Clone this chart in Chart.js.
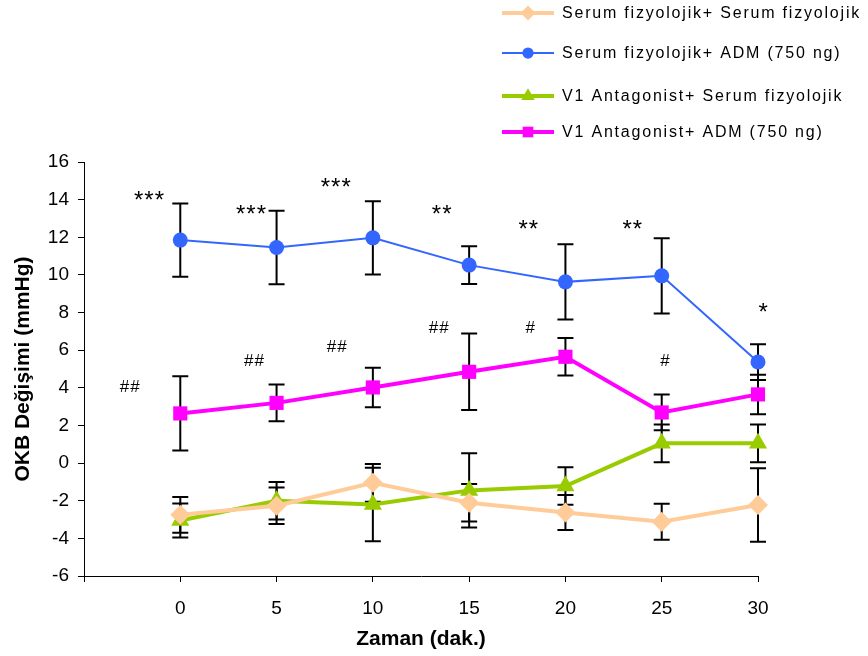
<!DOCTYPE html>
<html>
<head>
<meta charset="utf-8">
<script src="https://cdn.jsdelivr.net/npm/chart.js@4"></script>
<style>
  body { margin: 0; background: #fff; }
  #wrap { width: 868px; height: 656px; }
</style>
</head>
<body>
<div id="wrap"><canvas id="chart" width="868" height="656"></canvas></div>
<script>
// Time points (dak.)
const times = [0, 5, 10, 15, 20, 25, 30];

// Series means and error values (mmHg)
const sfSf = [-2.75, -2.27, -1.05, -2.11, -2.62, -3.12, -2.23];
const sfSfErr = [0.95, 0.97, 1.0, 1.0, 0.93, 0.96, 1.95];

const sfAdm = [11.85, 11.46, 11.97, 10.52, 9.63, 9.95, 5.37];
const sfAdmErr = [1.95, 1.95, 1.95, 1.0, 2.0, 2.0, 0.95];

const v1Sf = [-3.05, -2.0, -2.2, -1.45, -1.22, 1.05, 1.05];
const v1SfErr = [0.9, 1.0, 1.95, 1.97, 1.0, 1.0, 1.0];

const v1Adm = [2.64, 3.2, 4.02, 4.85, 5.65, 2.69, 3.65];
const v1AdmErr = [1.97, 0.97, 1.05, 2.03, 1.0, 0.95, 1.05];

const seriesNames = [
  'Serum fizyolojik+ Serum fizyolojik',
  'Serum fizyolojik+ ADM (750 ng)',
  'V1 Antagonist+ Serum fizyolojik',
  'V1 Antagonist+ ADM (750 ng)'
];

// Significance marks (text, x in dak., y in mmHg)
const markText = ['***', '***', '***', '**', '**', '**', '*', '##', '##', '##', '##', '#', '#'];
const markX = [-1.6, 3.7, 8.1, 13.6, 18.1, 23.5, 30.3, -2.6, 3.85, 8.15, 13.45, 18.2, 25.2];
const markY = [14.2, 13.5, 14.9, 13.5, 12.7, 12.7, 8.3, 4.05, 5.4, 6.15, 7.15, 7.15, 5.4];

const toPoints = (vals) => vals.map((v, i) => ({ x: times[i], y: v }));

const FONT = "Arial, 'Liberation Sans', sans-serif";
const legendRows = [13, 53, 96, 132]; // row centres of the legend, px

// Draw error bars behind the lines/markers
const errorBars = {
  id: 'errorBars',
  beforeDatasetsDraw(chart) {
    const { ctx, scales: { y } } = chart;
    ctx.save();
    ctx.strokeStyle = '#000';
    ctx.lineWidth = 2;
    chart.data.datasets.forEach((ds, di) => {
      const meta = chart.getDatasetMeta(di);
      meta.data.forEach((pt, i) => {
        const v = ds.data[i].y;
        const e = ds.errors[i];
        const top = y.getPixelForValue(v + e);
        const bot = y.getPixelForValue(v - e);
        const cap = 8;
        ctx.beginPath();
        ctx.moveTo(pt.x, top); ctx.lineTo(pt.x, bot);
        ctx.moveTo(pt.x - cap, top); ctx.lineTo(pt.x + cap, top);
        ctx.moveTo(pt.x - cap, bot); ctx.lineTo(pt.x + cap, bot);
        ctx.stroke();
      });
    });
    ctx.restore();
  }
};

// Significance marks and the legend at the top right
const extras = {
  id: 'extras',
  afterDraw(chart) {
    const { ctx, scales: { x, y } } = chart;
    ctx.save();
    ctx.fillStyle = '#000';
    ctx.textAlign = 'center';
    ctx.textBaseline = 'middle';
    markText.forEach((t, i) => {
      const star = t[0] === '*';
      ctx.font = star ? `24px ${FONT}` : `17px ${FONT}`;
      ctx.letterSpacing = '1px';
      ctx.fillText(t, x.getPixelForValue(markX[i]), y.getPixelForValue(markY[i]) + (star ? 6 : 0));
    });

    // legend
    ctx.textAlign = 'left';
    ctx.font = `16px ${FONT}`;
    ctx.letterSpacing = '1.8px';
    chart.data.datasets.forEach((ds, i) => {
      const ly = legendRows[i];
      ctx.strokeStyle = ds.borderColor;
      ctx.lineWidth = ds.borderWidth;
      ctx.beginPath();
      ctx.moveTo(502, ly); ctx.lineTo(554, ly);
      ctx.stroke();
      ctx.fillStyle = ds.pointBackgroundColor;
      Chart.helpers.drawPoint(ctx, { pointStyle: ds.pointStyle, radius: ds.pointRadius * 0.75, borderWidth: 0 }, 528, ly);
      ctx.fillStyle = '#000';
      ctx.fillText(ds.label, 562, ly + 1);
    });
    ctx.restore();
  }
};

const makeSet = (label, vals, errs, color, width, style, radius) => ({
  label,
  data: toPoints(vals),
  errors: errs,
  borderColor: color,
  borderWidth: width,
  pointStyle: style,
  pointRadius: radius,
  pointHoverRadius: radius,
  pointBackgroundColor: color,
  pointBorderColor: color,
  pointBorderWidth: 0,
  tension: 0,
  clip: false
});

new Chart(document.getElementById('chart'), {
  type: 'line',
  data: {
    datasets: [
      makeSet(seriesNames[0], sfSf, sfSfErr, '#FFCC99', 4, 'rectRot', 10),
      makeSet(seriesNames[1], sfAdm, sfAdmErr, '#3366FF', 2, 'circle', 7.5),
      makeSet(seriesNames[2], v1Sf, v1SfErr, '#99CC00', 4, 'triangle', 10.5),
      makeSet(seriesNames[3], v1Adm, v1AdmErr, '#FF00FF', 4, 'rect', 10)
    ]
  },
  options: {
    responsive: false,
    animation: false,
    layout: { padding: { left: 0, top: 162, right: 110, bottom: 0 } },
    plugins: {
      legend: { display: false },
      tooltip: { enabled: false }
    },
    scales: {
      x: {
        type: 'linear',
        min: -5,
        max: 30,
        afterFit: (s) => { s.height = 80; },
        ticks: {
          stepSize: 5,
          padding: 15,
          color: '#000',
          font: { family: FONT, size: 19 },
          callback: (v) => (v < 0 ? '' : v)
        },
        grid: { drawOnChartArea: false, drawTicks: true, tickLength: 6, color: '#000' },
        border: { color: '#000', width: 1 },
        title: {
          display: true,
          text: 'Zaman (dak.)',
          color: '#000',
          font: { family: FONT, size: 21, weight: 'bold' },
          padding: { top: 0, bottom: 4 }
        }
      },
      y: {
        min: -6,
        max: 16,
        afterFit: (s) => { s.width = 84; },
        ticks: {
          stepSize: 2,
          padding: 9,
          color: '#000',
          font: { family: FONT, size: 19 }
        },
        grid: { drawOnChartArea: false, drawTicks: true, tickLength: 6, color: '#000' },
        border: { color: '#000', width: 1 },
        title: {
          display: true,
          text: 'OKB Değişimi (mmHg)',
          color: '#000',
          font: { family: FONT, size: 21, weight: 'bold' },
          padding: { top: 11, bottom: 0 }
        }
      }
    }
  },
  plugins: [errorBars, extras]
});
</script>
</body>
</html>
